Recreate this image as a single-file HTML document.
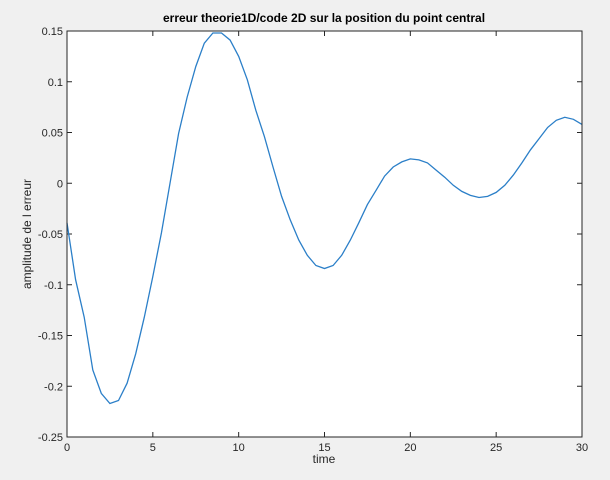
<!DOCTYPE html>
<html><head><meta charset="utf-8"><style>
body{margin:0;background:#f0f0f0;}
svg{display:block;font-family:"Liberation Sans",Arial,sans-serif;}
</style></head><body>
<svg id="chart" width="610" height="480">
<rect x="0" y="0" width="610" height="480" fill="#f0f0f0"/>
<rect x="67" y="31" width="515" height="406" fill="#fff"/>
<g id="ticks"></g>
<path id="line" fill="none" stroke="#2b7fc8" stroke-width="1.3"/>
<rect x="67" y="31" width="515" height="406" fill="none" stroke="#262626" stroke-width="1"/>
<text x="324" y="22" text-anchor="middle" font-size="12" font-weight="bold" fill="#000">erreur theorie1D/code 2D sur la position du point central</text>
<text x="324" y="463" text-anchor="middle" font-size="12" fill="#262626">time</text>
<text x="31" y="234" text-anchor="middle" font-size="12" fill="#262626" transform="rotate(-90 31 234)">amplitude de l erreur</text>
</svg>
<script>
const times=[0,0.5,1,1.5,2,2.5,3,3.5,4,4.5,5,5.5,6,6.5,7,7.5,8,8.5,9,9.5,10,10.5,11,11.5,12,12.5,13,13.5,14,14.5,15,15.5,16,16.5,17,17.5,18,18.5,19,19.5,20,20.5,21,21.5,22,22.5,23,23.5,24,24.5,25,25.5,26,26.5,27,27.5,28,28.5,29,29.5,30];
const errors=[-0.039,-0.095,-0.132,-0.184,-0.207,-0.217,-0.214,-0.197,-0.168,-0.132,-0.092,-0.049,0.0,0.049,0.085,0.115,0.138,0.148,0.148,0.141,0.125,0.102,0.072,0.046,0.016,-0.013,-0.036,-0.056,-0.071,-0.081,-0.084,-0.081,-0.071,-0.056,-0.039,-0.021,-0.007,0.007,0.016,0.021,0.024,0.023,0.020,0.013,0.006,-0.002,-0.008,-0.012,-0.014,-0.013,-0.009,-0.002,0.008,0.020,0.033,0.044,0.055,0.062,0.065,0.063,0.058];
const xTicks=[0,5,10,15,20,25,30];
const yTicks=[-0.25,-0.2,-0.15,-0.1,-0.05,0,0.05,0.1,0.15];
const yTickLabels=["-0.25","-0.2","-0.15","-0.1","-0.05","0","0.05","0.1","0.15"];
const X0=67,X1=582,Y0=437,Y1=31;
function sx(t){return X0+(t-0)/(30-0)*(X1-X0);}
function sy(v){return Y0-(v+0.25)/(0.4)*(Y0-Y1);}
const NS="http://www.w3.org/2000/svg";
const g=document.getElementById('ticks');
function mk(tag,attrs){const e=document.createElementNS(NS,tag);for(const k in attrs)e.setAttribute(k,attrs[k]);return e;}
xTicks.forEach(t=>{
  const x=sx(t);
  const a=mk('line',{x1:x,x2:x,y1:Y0,y2:Y0-5,stroke:'#262626'});
  
  
  g.appendChild(a);
  const b=mk('line',{x1:x,x2:x,y1:Y1,y2:Y1+5,stroke:'#262626'});
  
  
  g.appendChild(b);
  const tx=mk('text',{x:x,y:Y0+14,'text-anchor':'middle','font-size':'11',fill:'#262626'});
  tx.textContent=String(t);
  
  
  g.appendChild(tx);
});
yTicks.forEach((v,i)=>{
  const y=sy(v);
  const a=mk('line',{x1:X0,x2:X0+5,y1:y,y2:y,stroke:'#262626'});
  
  
  g.appendChild(a);
  const b=mk('line',{x1:X1,x2:X1-5,y1:y,y2:y,stroke:'#262626'});
  
  
  g.appendChild(b);
  const tx=mk('text',{x:X0-4,y:y+4,'text-anchor':'end','font-size':'11',fill:'#262626'});
  tx.textContent=yTickLabels[i];
  
  
  g.appendChild(tx);
});
document.getElementById('line').setAttribute('d',times.map((t,i)=>(i?'L':'M')+sx(t).toFixed(1)+' '+sy(errors[i]).toFixed(1)).join(' '));
</script>
</body></html>
